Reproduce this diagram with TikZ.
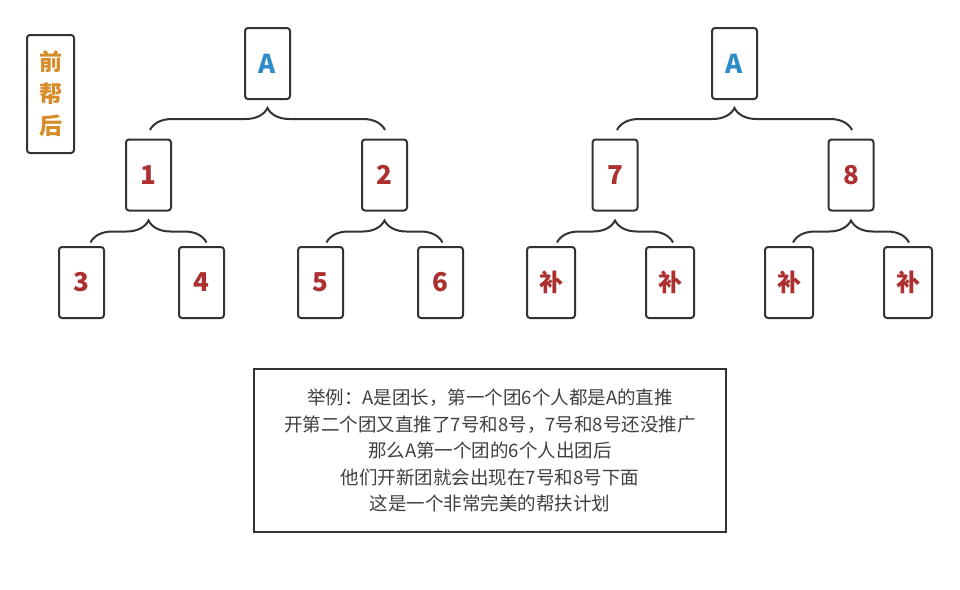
\documentclass[tikz,border=0pt]{standalone}
\usepackage{fontspec}
\setmainfont{Noto Sans CJK SC}
\usetikzlibrary{
  calc,
  positioning,
  decorations.pathreplacing
}
\definecolor{linegray}{RGB}{51,51,51}
\definecolor{leadblue}{RGB}{45,140,200}
\definecolor{numred}{RGB}{172,48,48}
\definecolor{tagorange}{RGB}{214,140,40}
\definecolor{textgray}{RGB}{64,64,64}

\begin{document}
\begin{tikzpicture}[
  x=1pt, y=-1pt,
  card/.style={draw=linegray, line width=2pt, rounded corners=3pt,
               minimum width=45pt, minimum height=71pt, inner sep=0pt,
               font=\bfseries\fontsize{26}{26}\selectfont},
  lead/.style={card, text=leadblue},
  member/.style={card, text=numred},
  fill/.style={card, minimum width=48pt, text=numred,
               font=\bfseries\fontsize{24}{24}\selectfont},
  tag/.style={card, minimum width=47pt, minimum height=118pt, text=tagorange,
              align=center, font=\bfseries\fontsize{23}{32}\selectfont},
  grp/.style={decorate, decoration={brace, amplitude=22pt},
              draw=linegray, line width=2pt},
]
\useasboundingbox (0,0) rectangle (960,589);

% side tag
\node[tag] at (50.5, 94) (tag) {前\\帮\\后};

% first team
\node[lead] at (267.5, 63.5) (lA) {A};
\node[member] at (148.5, 175) (l1) {1};
\node[member] at (384.5, 175) (l2) {2};
\node[member] at (81.5, 282.5) (l3) {3};
\node[member] at (201.5, 282.5) (l4) {4};
\node[member] at (320.5, 282.5) (l5) {5};
\node[member] at (440.5, 282.5) (l6) {6};

% second team
\node[lead] at (734.5, 63.5) (rA) {A};
\node[member] at (615, 175) (r7) {7};
\node[member] at (851, 175) (r8) {8};
\node[fill] at (551, 282.5) (rb1) {补};
\node[fill] at (670, 282.5) (rb2) {补};
\node[fill] at (789, 282.5) (rb3) {补};
\node[fill] at (908, 282.5) (rb4) {补};

% braces
\draw[grp] ($(lA.south)+(-117.5,30)$) -- ($(lA.south)+(117.5,30)$);
\draw[grp] ($(l1.south)+(-58,31)$) -- ($(l1.south)+(58,31)$);
\draw[grp] ($(l2.south)+(-58,31)$) -- ($(l2.south)+(58,31)$);
\draw[grp] ($(rA.south)+(-117.5,30)$) -- ($(rA.south)+(117.5,30)$);
\draw[grp] ($(r7.south)+(-58,31)$) -- ($(r7.south)+(58,31)$);
\draw[grp] ($(r8.south)+(-58,31)$) -- ($(r8.south)+(58,31)$);

% explanation
\node[draw=linegray, line width=2pt, minimum width=472pt, minimum height=163pt,
      align=center, text=textgray, font=\fontsize{18.5}{26.5}\selectfont]
  at (490, 450.5) (note)
  {举例：A是团长，第一个团6个人都是A的直推\\
   开第二个团又直推了7号和8号，7号和8号还没推广\\
   那么A第一个团的6个人出团后\\
   他们开新团就会出现在7号和8号下面\\
   这是一个非常完美的帮扶计划};

\end{tikzpicture}
\end{document}
